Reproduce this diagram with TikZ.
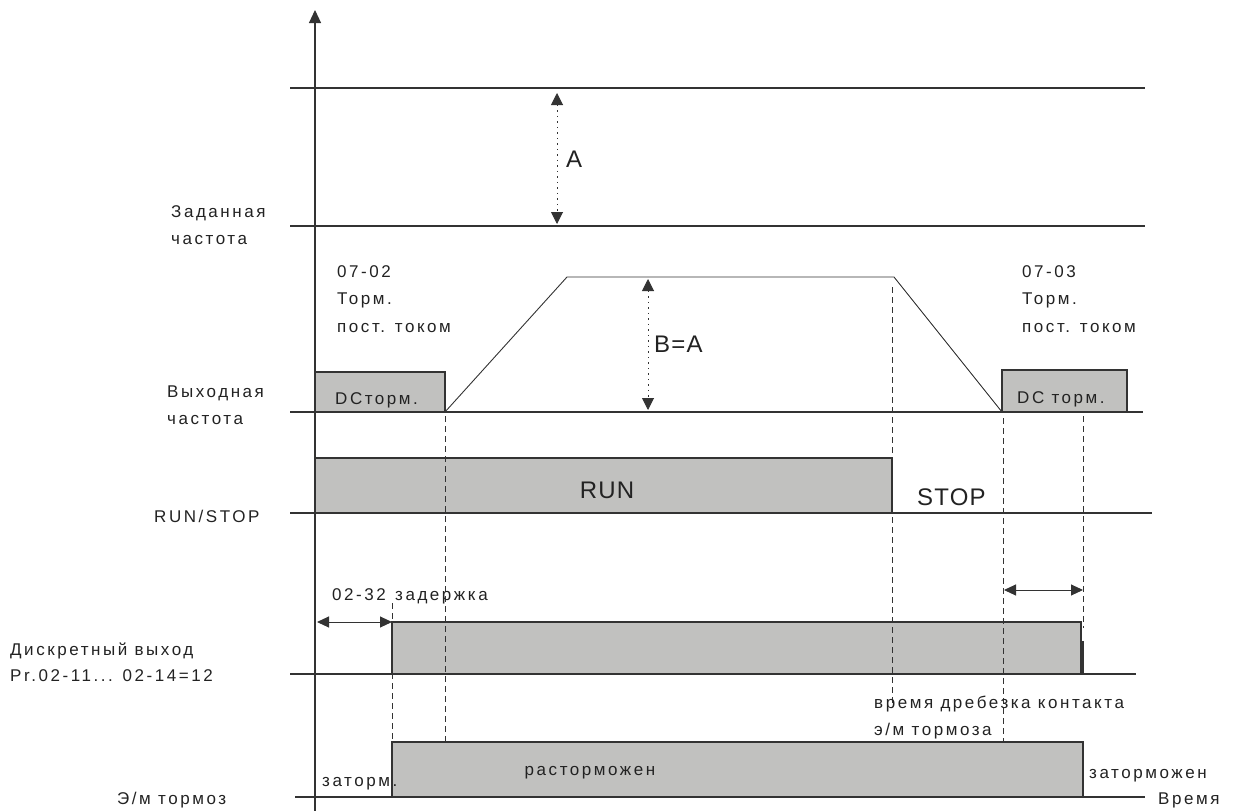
\documentclass[tikz,border=0pt]{standalone}
\usepackage{fontspec}
\setmainfont{Liberation Sans}[LetterSpace=15]
\newfontfamily\bigf{Liberation Sans}[LetterSpace=5]
\usetikzlibrary{arrows.meta}
\definecolor{lc}{HTML}{333333}
\definecolor{boxc}{HTML}{C1C1BF}
\definecolor{tc}{HTML}{222222}
\begin{document}
\begin{tikzpicture}[x=1pt,y=-1pt,
  ln/.style={draw=lc, line width=1.1pt},
  thin/.style={draw=lc, line width=0.9pt},
  box/.style={draw=lc, fill=boxc, line width=1.1pt},
  dsh/.style={draw=lc, line width=0.9pt, dash pattern=on 6pt off 4pt},
  dimarrow/.style={draw=lc, line width=1pt, {Triangle[width=11pt,length=12pt]}-{Triangle[width=11pt,length=12pt]}},
  dotarrow/.style={draw=lc, line width=1pt, dash pattern=on 1.5pt off 4pt, {Triangle[width=12pt,length=12pt]}-{Triangle[width=12pt,length=12pt]}},
  lbl/.style={anchor=base west, inner sep=0pt, text=tc, font=\fontsize{17}{20}\selectfont},
  big/.style={anchor=base west, inner sep=0pt, text=tc, font=\bigf\fontsize{24}{28}\selectfont}
]
\useasboundingbox (0,0) rectangle (1237,811);

% boxes
\draw[box] (315,372) rectangle (445,412);
\draw[box] (1002,370) rectangle (1127,412);
\draw[box] (315,458) rectangle (892,513);
\draw[box] (392,622) rectangle (1081,674);
\draw[box] (1081,642) rectangle (1083,674);
\draw[box] (392,742) rectangle (1083,797);

% horizontal lines
\draw[ln] (290,88) -- (1145,88);
\draw[ln] (290,226) -- (1145,226);
\draw[ln] (290,412) -- (1143,412);
\draw[ln] (290,513) -- (1152,513);
\draw[ln] (290,674) -- (1136,674);
\draw[ln] (295,797) -- (1145,797);

% output frequency profile
\draw[thin] (445,412) -- (567,277) -- (894,277) -- (1002,412);

% axis
\draw[ln, -{Triangle[width=12pt,length=13pt]}] (315,811) -- (315,10);

% dashed verticals
\draw[dsh] (445,416) -- (445,742);
\draw[dsh] (392,603) -- (392,742);
\draw[dsh] (892,287) -- (892,705);
\draw[dsh] (1003,418) -- (1003,742);
\draw[dsh] (1083,416) -- (1083,628);

% dimension arrows
\coordinate (a1) at (557,93);  \coordinate (a2) at (557,224);
\coordinate (b1) at (648,279); \coordinate (b2) at (648,410);
\coordinate (d1) at (317,622); \coordinate (d2) at (392,622);
\coordinate (e1) at (1004,590); \coordinate (e2) at (1083,590);
\draw[dotarrow] (a1) -- (a2);
\draw[dotarrow] (b1) -- (b2);
\draw[dimarrow] (d1) -- (d2);
\draw[dimarrow] (e1) -- (e2);

% labels
\node[big] (lA) at (566,167) {A};
\node[big] (lBA) at (654,352) {B=A};
\node[anchor=center, inner sep=0pt, text=tc, font=\bigf\fontsize{24}{28}\selectfont] (lrun) at (607,490) {RUN};
\node[big] (lstop) at (917,505) {STOP};

\node[lbl] (z1) at (171,217) {Заданная};
\node[lbl] (z2) at (171,244) {частота};
\node[lbl] (v1) at (167,397) {Выходная};
\node[lbl] (v2) at (167,424) {частота};
\node[lbl] (p1) at (337,277) {07-02};
\node[lbl] (p2) at (337,304) {Торм.};
\node[lbl] (p3) at (337,332) {пост. током};
\node[lbl] (q1) at (1022,277) {07-03};
\node[lbl] (q2) at (1022,304) {Торм.};
\node[lbl] (q3) at (1022,332) {пост. током};
\node[lbl] (dc1) at (335,404) {DCторм.};
\node[lbl] (dc2) at (1017,403) {DC торм.};
\node[lbl] (rs) at (154,522) {RUN/STOP};
\node[lbl] (t1) at (332,600) {02-32};
\node[lbl] (t2) at (395,600) {задержка};
\node[lbl] (do1) at (10,655) {Дискретный выход};
\node[lbl] (do2) at (10,681) {Pr.02-11... 02-14=12};
\node[lbl] (zt) at (322,786) {заторм.};
\node[anchor=center, inner sep=0pt, text=tc, font=\fontsize{17}{20}\selectfont] (rz) at (590,773) {расторможен};
\node[lbl] (ztm) at (1089,778) {заторможен};
\node[lbl] (vr) at (1158,804) {Время};
\node[lbl] (db1) at (874,708) {время дребезка контакта};
\node[lbl] (db2) at (874,735) {э/м тормоза};
\node[lbl] (em) at (117,804) {Э/м тормоз};
\end{tikzpicture}
\end{document}
